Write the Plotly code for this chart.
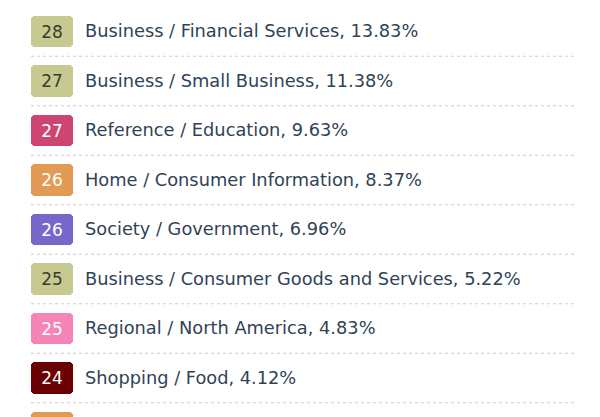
import plotly.graph_objects as go

ranks = ["28", "27", "27", "26", "26", "25", "25", "24", ""]
categories = [
    "Business / Financial Services",
    "Business / Small Business",
    "Reference / Education",
    "Home / Consumer Information",
    "Society / Government",
    "Business / Consumer Goods and Services",
    "Regional / North America",
    "Shopping / Food",
    "",
]
percents = ["13.83%", "11.38%", "9.63%", "8.37%", "6.96%", "5.22%", "4.83%", "4.12%", ""]
badge_colors = ["#c6ca91", "#c6ca91", "#cf4571", "#e39a55", "#7767cb",
                "#c6ca91", "#f585b7", "#6a0002", "#e39a55"]
badge_text_colors = ["#3b3b2c", "#3b3b2c", "#ffffff", "#ffffff", "#ffffff",
                     "#3b3b2c", "#ffffff", "#ffffff", "#ffffff"]

rows = list(range(len(ranks)))
labels = [f"{c}, {p}" if c else "" for c, p in zip(categories, percents)]

# page body has an 8px margin, so axes are offset to keep page-pixel units
offset = 8
pitch = 49.5
first_row = 31.5
text_nudge = 0.03  # labels sit a touch below the badge centre

fig = go.Figure()

# dotted separators between rows
for i in rows[:-1]:
    fig.add_trace(go.Scatter(
        x=[31, 575], y=[i + 0.5, i + 0.5], mode="lines",
        line=dict(color="#cccccc", width=1, dash="dot"),
        hoverinfo="skip", showlegend=False,
    ))

# rank badges
fig.add_trace(go.Bar(
    x=[42] * len(rows), y=rows, base=31, orientation="h", width=0.645,
    marker=dict(color=badge_colors, line=dict(width=0), cornerradius=4),
    text=ranks, textposition="inside", insidetextanchor="middle", textangle=0,
    textfont=dict(family="DejaVu Sans", size=17, color=badge_text_colors),
    hoverinfo="skip", showlegend=False,
))

# row labels
fig.add_trace(go.Scatter(
    x=[85] * len(rows), y=[r + text_nudge for r in rows], mode="text", text=labels,
    textposition="middle right",
    textfont=dict(family="DejaVu Sans", size=17.8, color="#2f4356"),
    hoverinfo="skip", showlegend=False,
))

top = (first_row - offset) / pitch
fig.update_layout(
    width=600, height=417,
    margin=dict(l=0, r=0, t=0, b=0),
    paper_bgcolor="white", plot_bgcolor="white",
    xaxis=dict(range=[offset, 600 + offset], visible=False, fixedrange=True),
    yaxis=dict(range=[(417 / pitch) - top, -top], visible=False, fixedrange=True),
    bargap=0,
)

fig.write_html("out.html")
